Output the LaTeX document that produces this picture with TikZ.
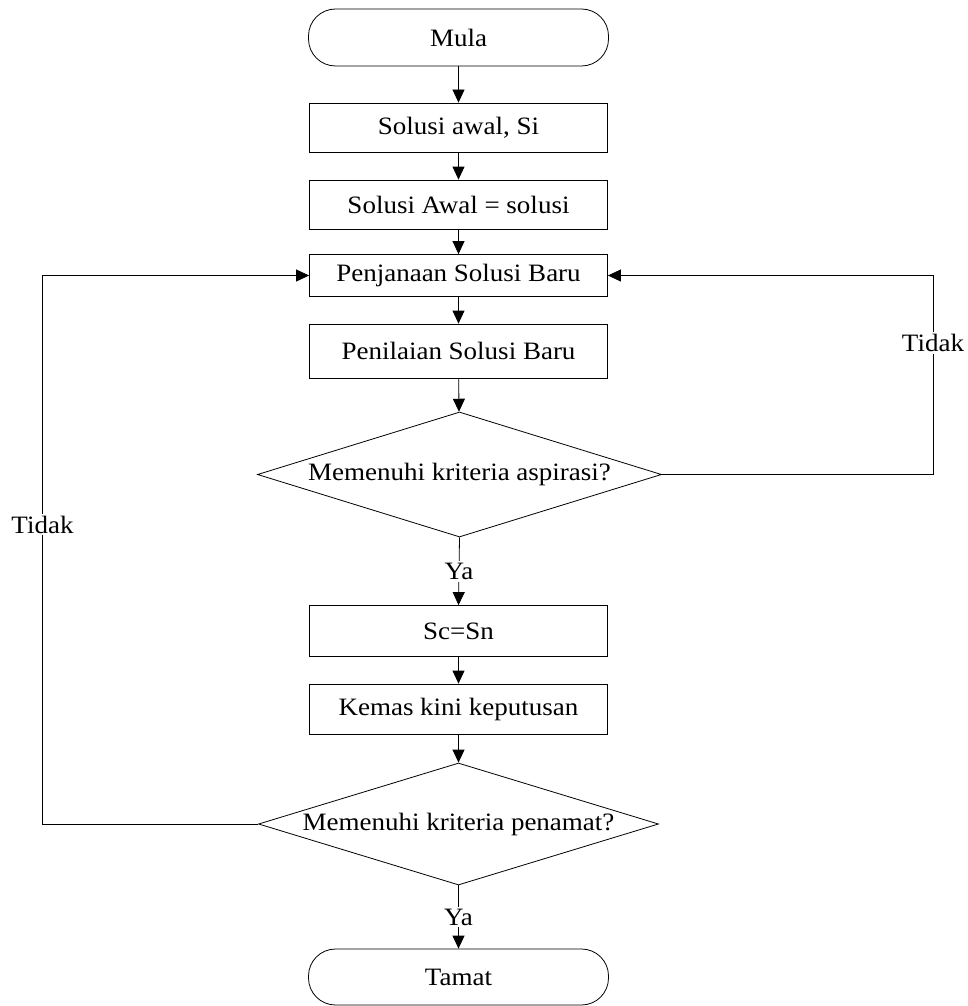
\documentclass[tikz,border=0pt]{standalone}
\usepackage{fontspec}
\setmainfont{Liberation Serif}[FakeStretch=1.08]
\usetikzlibrary{shapes.geometric,arrows.meta}
\begin{document}
\begin{tikzpicture}[x=1pt, y=-1pt, line width=0.8pt,
    every node/.style={font=\fontsize{25pt}{29pt}\selectfont},
    box/.style={draw, rectangle, minimum width=298pt, inner sep=0pt},
    term/.style={draw, rectangle, rounded corners=27pt, minimum width=300pt, inner sep=0pt},
    decision/.style={draw, diamond, aspect=3.2, inner sep=0pt},
    arr/.style={-{Triangle[length=13pt,width=12pt]}},
    lbl/.style={fill=white, inner sep=2pt}]
    \useasboundingbox (0,0) rectangle (967,1006);
    \node[term, minimum height=57pt] (mula) at (458.5, 37.5) {Mula};
    \node[box, minimum height=49pt] (si) at (458.5, 127.5) {Solusi awal, Si};
    \node[box, minimum height=49pt] (awal) at (458.5, 204.5) {Solusi Awal = solusi};
    \node[box, minimum height=42pt] (jana) at (458.5, 275.5) {Penjanaan Solusi Baru};
    \node[box, minimum height=54pt] (nilai) at (458.5, 351) {Penilaian Solusi Baru};
    \node[decision, minimum width=404pt, minimum height=125pt] (aspi) at (459.5, 474.5) {Memenuhi kriteria aspirasi?};
    \node[box, minimum height=51pt] (sc) at (458.5, 631) {Sc=Sn};
    \node[box, minimum height=50pt] (kemas) at (458.5, 709) {Kemas kini keputusan};
    \node[decision, minimum width=400pt, minimum height=122pt] (penamat) at (458.5, 824) {Memenuhi kriteria penamat?};
    \node[term, minimum height=56pt] (tamat) at (458.5, 977) {Tamat};
    \coordinate (kiri) at (42.5, 0);
    \coordinate (kanan) at (933, 0);
    \draw[arr] (mula) -- (si);
    \draw[arr] (si) -- (awal);
    \draw[arr] (awal) -- (jana);
    \draw[arr] (jana) -- (nilai);
    \draw[arr] (nilai) -- (aspi);
    \draw[arr] (aspi.south) -- node[lbl] {Ya} (sc.north);
    \draw[arr] (sc) -- (kemas);
    \draw[arr] (kemas) -- (penamat);
    \draw[arr] (penamat.south) -- node[lbl] {Ya} (tamat.north);
    \draw[arr] (aspi.east) -- (kanan |- aspi.east) -- node[lbl, pos=0.66] {Tidak} (kanan |- jana.east) -- (jana.east);
    \draw[arr] (penamat.west) -- (kiri |- penamat.west) -- node[lbl, pos=0.546] {Tidak} (kiri |- jana.west) -- (jana.west);
\end{tikzpicture}
\end{document}
